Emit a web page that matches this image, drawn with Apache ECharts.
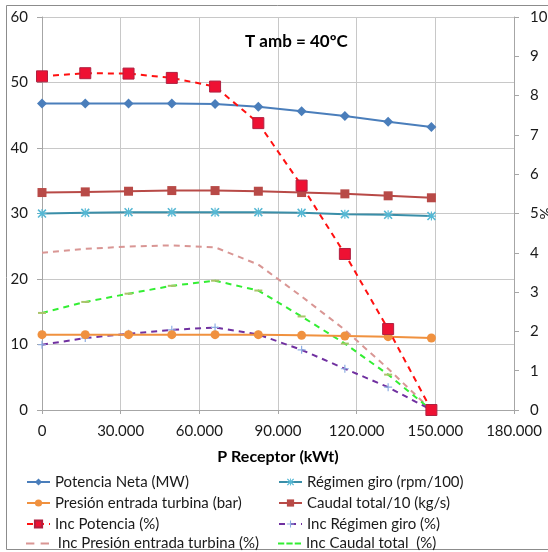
<!DOCTYPE html>
<html>
<head>
<meta charset="utf-8">
<script src="https://cdn.jsdelivr.net/npm/echarts@6/dist/echarts.min.js"></script>
<style>
  html, body { margin: 0; padding: 0; background: #fff; }
  #chart { width: 548px; height: 552px; }
</style>
</head>
<body>
<div id="chart"></div>
<script>
// Receptor thermal power (kWt) for each operating point
const receptorKWt = [0, 16500, 33000, 49500, 66000, 82500, 99000, 115500, 132000, 148500];

// Primary axis series
const potenciaNeta = [46.8, 46.8, 46.8, 46.8, 46.7, 46.3, 45.6, 44.9, 44.0, 43.2];
const regimenGiro = [30.0, 30.1, 30.2, 30.2, 30.2, 30.2, 30.1, 29.9, 29.8, 29.6];
const presionTurbina = [11.5, 11.5, 11.5, 11.5, 11.5, 11.5, 11.4, 11.3, 11.2, 11.0];
const caudalTotal = [33.2, 33.3, 33.4, 33.5, 33.5, 33.4, 33.2, 33.0, 32.7, 32.4];

// Secondary axis series (%)
const incPotencia = [8.49, 8.57, 8.56, 8.45, 8.23, 7.30, 5.71, 3.97, 2.06, 0];
const incRegimen = [1.66, 1.83, 1.94, 2.04, 2.10, 1.92, 1.53, 1.05, 0.58, 0];
const incPresion = [4.00, 4.10, 4.16, 4.19, 4.14, 3.70, 2.89, 2.04, 1.05, 0];
const incCaudal = [2.47, 2.75, 2.96, 3.16, 3.29, 3.04, 2.38, 1.69, 0.90, 0];

// Legend layout: two columns, four rows
const legendCol1 = ['Potencia Neta (MW)', 'Presión entrada turbina (bar)', 'Inc Potencia (%)', ' Inc Presión entrada turbina (%)'];
const legendCol2 = ['Régimen giro (rpm/100)', 'Caudal total/10 (kg/s)', 'Inc Régimen giro (%)', 'Inc Caudal total  (%)'];

const FONT = 'Lato';
const pair = (ys) => receptorKWt.map((x, i) => [x, ys[i]]);

const starPath = 'path://M0,1L1,0L8,7L7,8Z M7,0L8,1L1,8L0,7Z M3.5,0H4.5V8H3.5Z M0,3.5H8V4.5H0Z';
const plusPath = 'path://M3.4,0H4.6V8H3.4Z M0,3.4H8V4.6H0Z';
// legend keys drawn as plain dashes for the marker-less dashed series
const twoDashIcon = 'path://M0,4H8V6H0Z M14,4H22V6H14Z';
const threeDashIcon = 'path://M0,4H6V6H0Z M8,4H14V6H8Z M16,4H22V6H16Z';

function solid(name, ys, color, symbol, size, extra) {
  return Object.assign({
    name, type: 'line', data: pair(ys), yAxisIndex: 0,
    symbol, symbolSize: size,
    lineStyle: { color, width: 2 },
    itemStyle: { color },
    emphasis: { disabled: true },
    animation: false
  }, extra || {});
}
function dashed(name, ys, color, symbol, size, markColor, extra) {
  return Object.assign({
    name, type: 'line', data: pair(ys), yAxisIndex: 1,
    symbol, symbolSize: size,
    lineStyle: { color, width: 2, type: [6, 5] },
    itemStyle: { color: markColor },
    emphasis: { disabled: true },
    animation: false
  }, extra || {});
}

const chart = echarts.init(document.getElementById('chart'), null, { renderer: 'canvas' });

const axisText = { fontFamily: FONT, fontSize: 15, color: '#1a1a1a' };
const legendText = { fontFamily: FONT, fontSize: 15, color: '#1a1a1a' };

const legendIcons = {
  ' Inc Presión entrada turbina (%)': { icon: twoDashIcon, itemStyle: { color: '#d99694' } },
  'Inc Caudal total  (%)': { icon: threeDashIcon, itemStyle: { color: '#33ee33' } }
};

const rowCenters = [479, 500, 521, 541];
const legends = [];
[[legendCol1, 26], [legendCol2, 278]].forEach(([names, left]) => {
  names.forEach((n, r) => {
    const item = legendIcons[n] ? Object.assign({ name: n }, legendIcons[n]) : n;
    const iconH = legendIcons[n] ? 10 : 9;
    legends.push({
      left, top: rowCenters[r] - iconH / 2, orient: 'horizontal',
      itemWidth: 23, itemHeight: iconH, padding: 0,
      textStyle: legendText, selectedMode: false,
      data: [item]
    });
  });
});

chart.setOption({
  backgroundColor: '#fff',
  animation: false,
  title: {
    text: 'T amb = 40ºC',
    left: 240, top: 28,
    textStyle: { fontFamily: FONT, fontSize: 17, fontWeight: 'bold', color: '#000' }
  },
  grid: { left: 42, right: 34, top: 17, bottom: 142, containLabel: false, outerBoundsMode: 'none' },
  xAxis: {
    type: 'value', min: 0, max: 180000, interval: 30000,
    name: 'P Receptor (kWt)', nameLocation: 'middle', nameGap: 39,
    nameTextStyle: { fontFamily: FONT, fontSize: 16, fontWeight: 'bold', color: '#000' },
    axisLine: { show: true, lineStyle: { color: '#a6a6a6', width: 1 } },
    axisTick: { show: true, length: 4, lineStyle: { color: '#a6a6a6' } },
    splitLine: { show: true, lineStyle: { color: '#c8c8c8', width: 1 } },
    axisLabel: Object.assign({ margin: 14, formatter: v => v === 0 ? '0' : String(v / 1000) + '.000' }, axisText)
  },
  yAxis: [
    {
      type: 'value', min: 0, max: 60, interval: 10,
      axisLine: { show: true, lineStyle: { color: '#a6a6a6', width: 1 } },
      axisTick: { show: true, length: 5, lineStyle: { color: '#a6a6a6' } },
      splitLine: { show: true, lineStyle: { color: '#c8c8c8', width: 1 } },
      axisLabel: Object.assign({ margin: 14 }, axisText)
    },
    {
      type: 'value', min: 0, max: 10, interval: 1, position: 'right',
      name: '%', nameLocation: 'middle', nameGap: 23, nameRotate: -90,
      nameMoveOverlap: false,
      nameTextStyle: { fontFamily: FONT, fontSize: 15, color: '#1a1a1a' },
      axisLine: { show: true, lineStyle: { color: '#a6a6a6', width: 1 } },
      axisTick: { show: true, length: 5, lineStyle: { color: '#a6a6a6' } },
      splitLine: { show: false },
      axisLabel: Object.assign({ margin: 16 }, axisText)
    }
  ],
  legend: legends,
  graphic: [
    {
      type: 'rect', silent: true, z: -1,
      shape: { x: 6.5, y: 5.5, width: 560, height: 544 },
      style: { fill: null, stroke: '#8c8c8c', lineWidth: 1 }
    }
  ],
  series: [
    dashed(' Inc Presión entrada turbina (%)', incPresion, '#d99694', 'none', 0, '#d99694'),
    dashed('Inc Caudal total  (%)', incCaudal, '#33ee33', 'rect', [8, 2], '#a9c46a'),
    dashed('Inc Régimen giro (%)', incRegimen, '#7030a0', plusPath, 8, '#8eaee3'),
    solid('Presión entrada turbina (bar)', presionTurbina, '#f0913f', 'circle', 9),
    solid('Régimen giro (rpm/100)', regimenGiro, '#3a8ea8', starPath, 9, { itemStyle: { color: '#56b8d4' } }),
    solid('Caudal total/10 (kg/s)', caudalTotal, '#b84a47', 'rect', 9),
    solid('Potencia Neta (MW)', potenciaNeta, '#4a7ebb', 'diamond', 10),
    dashed('Inc Potencia (%)', incPotencia, '#ff1010', 'rect', 11, '#e8173c',
      { itemStyle: { color: '#ee1133', borderColor: '#b02040', borderWidth: 1 } })
  ]
});
</script>
</body>
</html>
